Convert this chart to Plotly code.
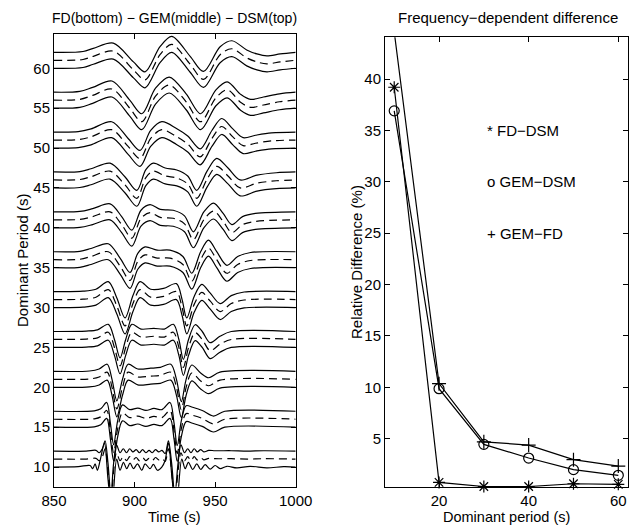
import plotly.graph_objects as go
import numpy as np

# ---------------- data: left panel (waveforms, amplitude vs time) ----------------
PERIODS = [10, 15, 20, 25, 30, 35, 40, 45, 50, 55, 60]
TIME_TICKS = [850, 900, 950, 1000]
PERIOD_TICKS = [10, 15, 20, 25, 30, 35, 40, 45, 50, 55, 60]

T60 = [850, 868, 874.4, 886.8, 899.3, 906.5, 915.8, 923.1, 934.5, 942.8, 953.1, 960.4, 969.6, 975.9, 982.1, 990.4, 1000]
A60 = [0, 0.1, 0.5, 1.15, -1.2, -2.45, 0.7, 2.0, -0.5, -2.4, 0.7, 1.45, 0.3, -0.2, -0.45, -0.2, 0]

T55 = [850, 866, 874, 886, 897, 904.5, 913, 921.5, 932, 941, 950.5, 957.5, 966, 972, 980, 990, 1000]
A55 = [0, 0.1, 0.6, 1.4, -1.0, -2.7, 0.5, 1.9, -0.2, -2.7, 0.3, 1.3, -0.3, -0.9, -0.6, -0.2, 0]

T50 = [850, 865, 873, 885.8, 896, 903.4, 910, 916.9, 926, 933, 940.7, 948, 954.1, 961, 967.4, 975, 985, 1000]
A50 = [0, 0.05, 0.4, 1.3, -0.8, -2.3, 0.2, 1.3, 0.45, -0.5, -2.1, 0.2, 1.7, 0.4, -0.7, -0.4, -0.1, 0]

T45 = [850, 866, 873, 884.8, 894, 901.4, 907, 911.7, 919, 926.2, 933, 938.6, 945, 951, 958, 965.5, 976, 988, 1000]
A45 = [0, 0.05, 0.4, 1.1, -0.6, -2.3, 0.3, 1.1, 0.5, 0.25, -0.5, -2.3, 0.1, 1.7, 0.5, -1.0, -0.4, -0.1, 0]

T40 = [850, 866, 874, 884.8, 892, 898.3, 904, 909.6, 916, 924, 931, 936.5, 943, 949, 955, 960.4, 967, 975, 1000]
A40 = [0, 0.05, 0.4, 1.0, -0.6, -2.3, 0.2, 0.9, 0.3, 0.2, -0.5, -2.5, 0.0, 1.1, -0.2, -1.6, -0.6, -0.2, 0]

T35 = [850, 866, 873, 883.7, 891, 897.2, 902, 906.5, 914, 922, 930, 935.5, 941, 945.9, 951, 957.3, 964, 972, 1000]
A35 = [0, 0.05, 0.4, 1.0, -0.8, -2.6, -0.2, 0.6, 0.2, 0.2, -0.6, -2.7, 0.0, 1.45, 0.0, -1.7, -0.6, -0.1, 0]

T30 = [850, 868, 876, 883.7, 889, 894.1, 899, 903.4, 910, 918, 926, 929.5, 932.4, 937, 941.7, 947, 953.1, 960, 968, 1000]
A30 = [0, 0.05, 0.3, 1.25, -0.8, -3.3, -0.5, 1.25, 0.3, 0.4, 1.0, -1.0, -3.3, -0.6, 0.9, -0.2, -1.5, -0.5, -0.05, 0]

T25 = [850, 870, 877, 883.7, 887.5, 891, 894.5, 898.3, 904, 912, 918.5, 924.1, 927.5, 930.3, 933.5, 937.6, 942, 946.9, 953, 960, 1000]
A25 = [0, 0.05, 0.2, 0.9, -1.0, -3.3, -1.0, 0.9, 0.3, 0.4, 0.3, 0.9, -1.0, -3.5, -1.0, 0.85, 0.0, -1.4, -0.6, 0, 0]

T20 = [850, 872, 878, 883, 886, 889, 892.5, 896, 902, 910, 916, 922.5, 926, 929, 932, 935.5, 941, 946, 953, 1000]
A20 = [0, 0.05, 0.3, 0.9, -1.0, -3.7, -1.0, 0.9, 0.3, 0.4, 0.5, 0.9, -1.0, -3.8, -1.0, 0.8, -0.2, -0.8, -0.1, 0]

T15 = [850, 875, 879, 882.7, 885, 887, 889.5, 892.5, 897, 902, 907, 912, 917, 922, 924.5, 926.5, 929, 932, 936, 942, 949, 956, 1000]
A15 = [0, 0.05, 0.3, 1.1, -1.5, -4.2, -1.2, 0.8, 0.2, 0.4, 0.1, 0.35, 0.2, 1.1, -1.5, -4.3, -1.2, 0.7, 0.5, 0.1, -0.6, 0, 0]

T10 = [850, 870, 876, 878, 880, 881.7, 883.5, 885.3, 887, 888.8, 891, 893, 895, 897, 899, 901, 903, 905, 907,
       909, 911, 913, 915, 917, 919, 921, 923, 925, 927, 928.8, 931, 933, 935, 937, 939, 941, 943, 946, 950,
       960, 970, 980, 1000]
A10 = [0, 0, 0.1, -0.2, 0.3, 1.3, -1.5, -5.5, -1.5, 0.8, -0.2, 0.3, -0.2, 0.3, -0.1, 0.2, -0.2, 0.2, -0.2,
       0.1, -0.2, 0.2, -0.1, 0.1, -0.3, 1.3, -1.5, -5.5, -1.5, 0.8, -0.2, 0.3, -0.2, 0.3, -0.1, 0.2, -0.1, 0.1, 0.05,
       0.05, 0.0, 0.05, 0]

# FD trace at 10 s shows stronger ringing
T10_FD = [850, 865, 872.4, 874.0, 875.5, 876.9, 878.6, 881.3, 883.5, 885.8, 888.9, 891.0, 893.1, 895.1, 897.2,
          899.3, 901.8, 904.5, 906.5, 909.6, 911.7, 914.2, 916.9, 918.9, 921.0, 923.3, 925.8, 929.3, 931.4,
          933.4, 936.1, 938.6, 941.1, 943.8, 946.9, 950.0, 953.1, 957.3, 963.5, 971.7, 982.1, 992.5, 1000]
A10_FD = [0, 0.05, 0.2, -0.2, 0.4, -0.4, 0.8, 3.0, -1.5, -5.5, 1.0, -0.4, 0.6, -0.2, 0.5,
          -0.2, 0.4, -0.4, 0.4, -0.2, 0.33, -0.4, 0.0, 0.8, 3.0, -1.5, -5.5, 1.0, -0.2,
          0.6, -0.3, 0.4, -0.3, 0.3, -0.25, 0.2, -0.2, 0.1, -0.1, 0.1, -0.1, 0.05, 0]

WAVES = {10: (T10, A10), 15: (T15, A15), 20: (T20, A20), 25: (T25, A25), 30: (T30, A30),
         35: (T35, A35), 40: (T40, A40), 45: (T45, A45), 50: (T50, A50), 55: (T55, A55), 60: (T60, A60)}
FD_SPECIAL = {10: (T10_FD, A10_FD)}

# ---------------- data: right panel ----------------
DOM_PERIOD = [10, 20, 30, 40, 50, 60]
FD_DSM = [39.2, 0.75, 0.35, 0.35, 0.62, 0.56]
GEM_DSM = [36.9, 9.87, 4.45, 3.12, 1.99, 1.44]
GEM_FD = [44.6, 10.36, 4.7, 4.38, 2.96, 2.34]
RD_TICKS = [5, 10, 15, 20, 25, 30, 35, 40]
DP_TICKS = [20, 40, 60]

FONT = "Liberation Sans, Arial, Helvetica, sans-serif"
LW = 1.2

fig = go.Figure()

for P in PERIODS:
    t, a = WAVES[P]
    tf, af = FD_SPECIAL.get(P, (t, a))
    a = np.array(a, dtype=float)
    af = np.array(af, dtype=float)
    fig.add_trace(go.Scatter(x=tf, y=P + af, mode="lines", line=dict(color="black", width=LW, shape="spline", smoothing=0.9),
                             xaxis="x", yaxis="y", showlegend=False, hoverinfo="skip"))
    fig.add_trace(go.Scatter(x=t, y=P + 1 + a, mode="lines",
                             line=dict(color="black", width=LW, shape="spline", smoothing=0.9, dash="8px,5px"),
                             xaxis="x", yaxis="y", showlegend=False, hoverinfo="skip"))
    fig.add_trace(go.Scatter(x=t, y=P + 2 + a, mode="lines", line=dict(color="black", width=LW, shape="spline", smoothing=0.9),
                             xaxis="x", yaxis="y", showlegend=False, hoverinfo="skip"))

Y2_RANGE = [0.3, 44.06]
for vals, sym, size in [(FD_DSM, "asterisk-open", 10), (GEM_DSM, "circle-open", 10), (GEM_FD, "cross-thin-open", 10)]:
    fig.add_trace(go.Scatter(x=DOM_PERIOD, y=vals, mode="lines", line=dict(color="black", width=LW),
                             xaxis="x2", yaxis="y2", showlegend=False, hoverinfo="skip"))
    v = np.array(vals, dtype=float)
    inside = v <= Y2_RANGE[1]
    fig.add_trace(go.Scatter(x=np.array(DOM_PERIOD)[inside], y=v[inside], mode="markers",
                             marker=dict(symbol=sym, size=size, color="black", line=dict(color="black", width=1.2)),
                             cliponaxis=False, xaxis="x2", yaxis="y2", showlegend=False, hoverinfo="skip"))

axis_common = dict(showline=True, linecolor="black", linewidth=1, mirror="ticks", ticks="inside", ticklen=5,
                   tickcolor="black", tickwidth=1, showgrid=False, zeroline=False, automargin=False,
                   tickfont=dict(family=FONT, size=15, color="black"))

fig.update_layout(
    width=640, height=526, margin=dict(l=0, r=0, t=0, b=0, pad=0, autoexpand=False),
    paper_bgcolor="white", plot_bgcolor="white",
    font=dict(family=FONT, size=15, color="black"),
    xaxis=dict(domain=[0.0844, 0.462], range=[850, 1000], tickvals=TIME_TICKS, anchor="y", **axis_common),
    yaxis=dict(domain=[0.0747, 0.9348], range=[7.54, 64.26], tickvals=PERIOD_TICKS, anchor="x", **axis_common),
    xaxis2=dict(domain=[0.6016, 0.9808], range=[7.95, 62.1], tickvals=DP_TICKS, anchor="y2", **axis_common),
    yaxis2=dict(domain=[0.0741, 0.9291], range=Y2_RANGE, tickvals=RD_TICKS, anchor="x2", **axis_common),
)

ann = [
    dict(text="FD(bottom) − GEM(middle) − DSM(top)", x=0.273, y=1 - 18 / 526, xref="paper", yref="paper",
         showarrow=False, xanchor="center", yanchor="middle", font=dict(size=14)),
    dict(text="Frequency−dependent difference", x=0.794, y=1 - 18 / 526, xref="paper", yref="paper",
         showarrow=False, xanchor="center", yanchor="middle", font=dict(size=15)),
    dict(text="Time (s)", x=0.273, y=1 - 517 / 526, xref="paper", yref="paper",
         showarrow=False, xanchor="center", yanchor="middle", font=dict(size=14.5)),
    dict(text="Dominant period (s)", x=0.791, y=1 - 517 / 526, xref="paper", yref="paper",
         showarrow=False, xanchor="center", yanchor="middle", font=dict(size=14.5)),
    dict(text="Dominant Period (s)", x=22 / 640, y=1 - 261 / 526, xref="paper", yref="paper", textangle=-90,
         showarrow=False, xanchor="center", yanchor="middle", font=dict(size=15)),
    dict(text="Relative Difference (%)", x=357 / 640, y=1 - 262 / 526, xref="paper", yref="paper", textangle=-90,
         showarrow=False, xanchor="center", yanchor="middle", font=dict(size=15)),
    dict(text="* FD−DSM", x=30.2, y=35, xref="x2", yref="y2", showarrow=False, xanchor="left", yanchor="middle",
         font=dict(size=15)),
    dict(text="o GEM−DSM", x=30.2, y=30, xref="x2", yref="y2", showarrow=False, xanchor="left", yanchor="middle",
         font=dict(size=15)),
    dict(text="+ GEM−FD", x=30.2, y=25, xref="x2", yref="y2", showarrow=False, xanchor="left", yanchor="middle",
         font=dict(size=15)),
]
fig.update_layout(annotations=ann)

fig.write_html("out.html")
